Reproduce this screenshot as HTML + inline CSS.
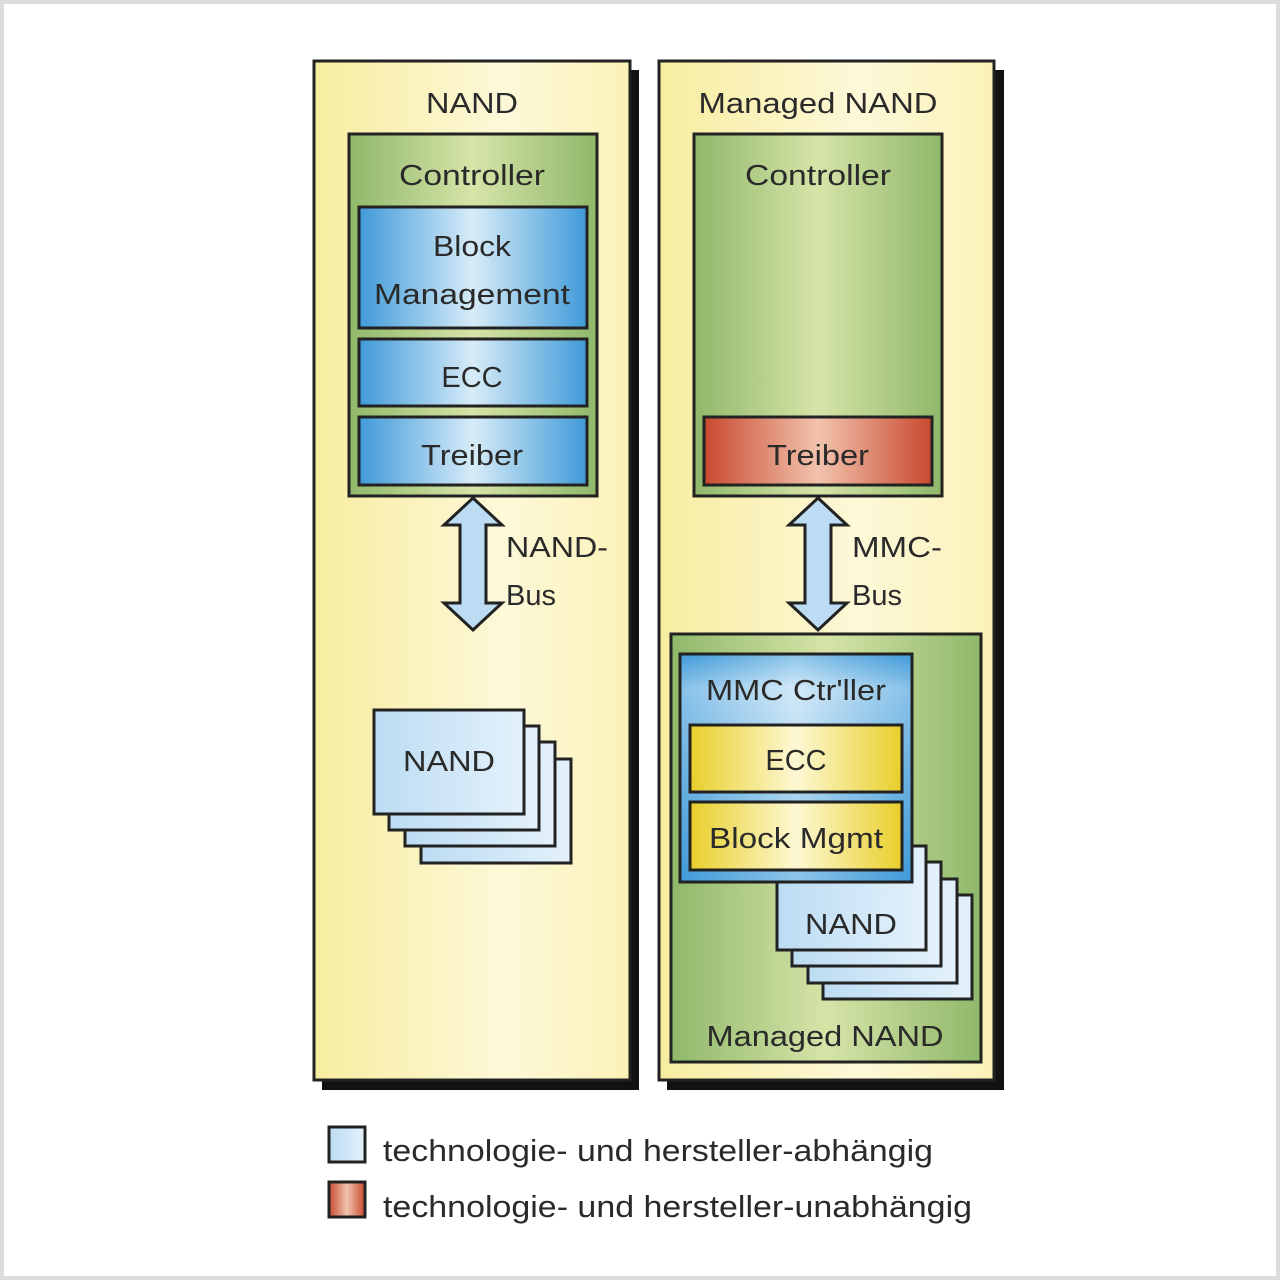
<!DOCTYPE html>
<html><head><meta charset="utf-8"><style>
html,body{margin:0;padding:0;background:#fff}
svg{display:block}
text{font-family:"Liberation Sans",sans-serif;fill:#2a2a2a}
</style></head><body>
<svg width="1280" height="1280" viewBox="0 0 1280 1280" xmlns="http://www.w3.org/2000/svg">
<defs>
<linearGradient id="yel" x1="0" x2="1"><stop offset="0" stop-color="#f7eda0"/><stop offset="0.6" stop-color="#fdf8d8"/><stop offset="1" stop-color="#fbf2b8"/></linearGradient>
<linearGradient id="grn" x1="0" x2="1"><stop offset="0" stop-color="#8fb86a"/><stop offset="0.5" stop-color="#d6e4a8"/><stop offset="1" stop-color="#8fb86a"/></linearGradient>
<linearGradient id="blu" x1="0" x2="1"><stop offset="0" stop-color="#3f9ad8"/><stop offset="0.5" stop-color="#d7ecf8"/><stop offset="1" stop-color="#3f9ad8"/></linearGradient>
<linearGradient id="bluv" x1="0" y1="0" x2="0" y2="1"><stop offset="0" stop-color="#3f9ad8"/><stop offset="0.15" stop-color="#cfe7f7"/><stop offset="1" stop-color="#3f9ad8"/></linearGradient>
<linearGradient id="gld" x1="0" x2="1"><stop offset="0" stop-color="#e8cf2a"/><stop offset="0.5" stop-color="#fdf8d4"/><stop offset="1" stop-color="#e8cf2a"/></linearGradient>
<linearGradient id="red" x1="0" x2="1"><stop offset="0" stop-color="#c8492f"/><stop offset="0.5" stop-color="#f2c3ad"/><stop offset="1" stop-color="#c8492f"/></linearGradient>
<linearGradient id="lb" x1="0" x2="1"><stop offset="0" stop-color="#bcdcf3"/><stop offset="1" stop-color="#e3f1fb"/></linearGradient>
</defs>
<rect x="2" y="2" width="1276" height="1276" fill="#fff" stroke="#dcdcdc" stroke-width="4"/>

<!-- Left panel -->
<rect x="322" y="70" width="317" height="1020" fill="#111"/>
<rect x="314" y="61" width="316" height="1019" fill="url(#yel)" stroke="#222" stroke-width="3"/>
<text x="472" y="113" font-size="29" text-anchor="middle" textLength="92" lengthAdjust="spacingAndGlyphs">NAND</text>
<rect x="349" y="134" width="248" height="362" fill="url(#grn)" stroke="#222" stroke-width="3"/>
<text x="472" y="185" font-size="29" text-anchor="middle" textLength="146" lengthAdjust="spacingAndGlyphs">Controller</text>
<rect x="359" y="207" width="228" height="121" fill="url(#blu)" stroke="#222" stroke-width="3"/>
<text x="472" y="256" font-size="29" text-anchor="middle" textLength="78" lengthAdjust="spacingAndGlyphs">Block</text>
<text x="472" y="304" font-size="29" text-anchor="middle" textLength="196" lengthAdjust="spacingAndGlyphs">Management</text>
<rect x="359" y="339" width="228" height="67" fill="url(#blu)" stroke="#222" stroke-width="3"/>
<text x="472" y="387" font-size="29" text-anchor="middle">ECC</text>
<rect x="359" y="417" width="228" height="68" fill="url(#blu)" stroke="#222" stroke-width="3"/>
<text x="472" y="465" font-size="29" text-anchor="middle" textLength="102" lengthAdjust="spacingAndGlyphs">Treiber</text>
<polygon points="473,498 502,525 486,525 486,603 502,603 473,630 444,603 460,603 460,525 444,525" fill="#bcdcf3" stroke="#222" stroke-width="3"/>
<text x="506" y="557" font-size="29" textLength="102" lengthAdjust="spacingAndGlyphs">NAND-</text>
<text x="506" y="605" font-size="29">Bus</text>
<rect x="421" y="759" width="150" height="104" fill="url(#lb)" stroke="#222" stroke-width="3"/>
<rect x="405" y="742" width="150" height="104" fill="url(#lb)" stroke="#222" stroke-width="3"/>
<rect x="389" y="726" width="150" height="104" fill="url(#lb)" stroke="#222" stroke-width="3"/>
<rect x="374" y="710" width="150" height="104" fill="url(#lb)" stroke="#222" stroke-width="3"/>
<text x="449" y="771" font-size="29" text-anchor="middle" textLength="92" lengthAdjust="spacingAndGlyphs">NAND</text>

<!-- Right panel -->
<rect x="667" y="70" width="337" height="1020" fill="#111"/>
<rect x="659" y="61" width="335" height="1019" fill="url(#yel)" stroke="#222" stroke-width="3"/>
<text x="818" y="113" font-size="29" text-anchor="middle" textLength="239" lengthAdjust="spacingAndGlyphs">Managed NAND</text>
<rect x="694" y="134" width="248" height="362" fill="url(#grn)" stroke="#222" stroke-width="3"/>
<text x="818" y="185" font-size="29" text-anchor="middle" textLength="146" lengthAdjust="spacingAndGlyphs">Controller</text>
<rect x="704" y="417" width="228" height="68" fill="url(#red)" stroke="#222" stroke-width="3"/>
<text x="818" y="465" font-size="29" text-anchor="middle" textLength="102" lengthAdjust="spacingAndGlyphs">Treiber</text>
<polygon points="818,498 847,525 831,525 831,603 847,603 818,630 789,603 805,603 805,525 789,525" fill="#bcdcf3" stroke="#222" stroke-width="3"/>
<text x="852" y="557" font-size="29" textLength="90" lengthAdjust="spacingAndGlyphs">MMC-</text>
<text x="852" y="605" font-size="29">Bus</text>
<rect x="671" y="634" width="310" height="428" fill="url(#grn)" stroke="#222" stroke-width="3"/>
<rect x="823" y="895" width="149" height="104" fill="url(#lb)" stroke="#222" stroke-width="3"/>
<rect x="808" y="879" width="149" height="104" fill="url(#lb)" stroke="#222" stroke-width="3"/>
<rect x="792" y="862" width="149" height="104" fill="url(#lb)" stroke="#222" stroke-width="3"/>
<rect x="777" y="846" width="149" height="104" fill="url(#lb)" stroke="#222" stroke-width="3"/>
<text x="851" y="934" font-size="29" text-anchor="middle" textLength="92" lengthAdjust="spacingAndGlyphs">NAND</text>
<rect x="680" y="654" width="232" height="228" fill="url(#bluv)"/>
<rect x="680" y="654" width="232" height="228" fill="url(#blu)" opacity="0.5"/>
<rect x="680" y="654" width="232" height="228" fill="none" stroke="#222" stroke-width="3"/>
<text x="796" y="700" font-size="29" text-anchor="middle" textLength="180" lengthAdjust="spacingAndGlyphs">MMC Ctr'ller</text>
<rect x="690" y="725" width="212" height="67" fill="url(#gld)" stroke="#222" stroke-width="3"/>
<text x="796" y="770" font-size="29" text-anchor="middle">ECC</text>
<rect x="690" y="802" width="212" height="68" fill="url(#gld)" stroke="#222" stroke-width="3"/>
<text x="796" y="848" font-size="29" text-anchor="middle" textLength="174" lengthAdjust="spacingAndGlyphs">Block Mgmt</text>
<text x="825" y="1046" font-size="29" text-anchor="middle" textLength="237" lengthAdjust="spacingAndGlyphs">Managed NAND</text>

<!-- Legend -->
<rect x="329" y="1127" width="36" height="35" fill="url(#lb)" stroke="#222" stroke-width="3"/>
<text x="383" y="1161" font-size="31" textLength="550" lengthAdjust="spacingAndGlyphs">technologie- und hersteller-abhängig</text>
<rect x="329" y="1182" width="36" height="35" fill="url(#red)" stroke="#222" stroke-width="3"/>
<text x="383" y="1217" font-size="31" textLength="589" lengthAdjust="spacingAndGlyphs">technologie- und hersteller-unabhängig</text>
</svg>
</body></html>
